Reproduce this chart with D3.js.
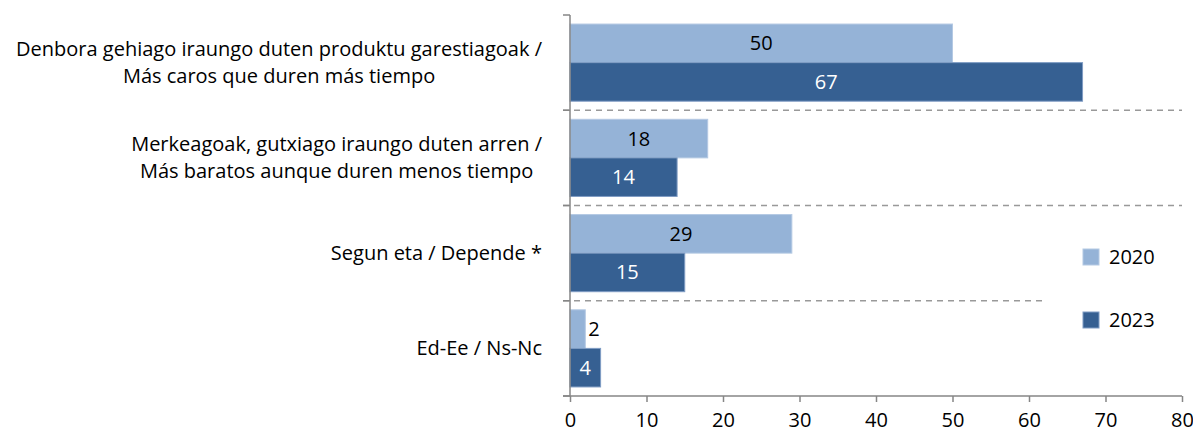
<!DOCTYPE html>
<html><head><meta charset="utf-8">
<script src="https://cdn.jsdelivr.net/npm/d3@7"></script>
<style>body{margin:0;background:#fff}svg{display:block}</style>
</head><body>
<script>
const categories = [
  ["Denbora gehiago iraungo duten produktu garestiagoak /", "Más caros que duren más tiempo"],
  ["Merkeagoak, gutxiago iraungo duten arren /", "Más baratos aunque duren menos tiempo"],
  ["Segun eta / Depende *"],
  ["Ed-Ee / Ns-Nc"]
];
const seriesNames = ["2020", "2023"];
const values2020 = [50, 18, 29, 2];
const values2023 = [67, 14, 15, 4];
const xTicks = [0, 10, 20, 30, 40, 50, 60, 70, 80];
const colors = ["#95B3D7", "#366092"];
const labelColors = ["#000", "#fff"];

const W = 1193, H = 434;
const font = "'Open Sans', sans-serif";
const fs = 20;
const svg = d3.select("body").append("svg").attr("width", W).attr("height", H);

const x = d3.scaleLinear().domain([0, 80]).range([570, 1182]);
const catIdx = categories.map((c, i) => i);
const y0 = d3.scaleBand().domain(catIdx).range([15, 396]).paddingInner(0.19).paddingOuter(0.095);
const y1 = d3.scaleBand().domain([0, 1]).range([0, y0.bandwidth()]);
const step = y0.step();

// dashed separators
const sepEnds = [1182, 1182, 1046];
[1, 2, 3].forEach((i, k) => {
  const yy = 15 + i * step;
  svg.append("line").attr("x1", 563).attr("x2", sepEnds[k]).attr("y1", yy).attr("y2", yy)
    .attr("stroke", "#999").attr("stroke-width", 1.5).attr("stroke-dasharray", "6,5");
});

const series = [values2020, values2023];
series.forEach((vals, s) => {
  const g = svg.append("g");
  vals.forEach((v, i) => {
    const yy = y0(i) + y1(s);
    g.append("rect").attr("x", x(0)).attr("y", yy).attr("width", x(v) - x(0)).attr("height", y1.bandwidth())
      .attr("fill", colors[s]).attr("stroke", s === 0 ? "#b4c9e3" : "#7f9cc4").attr("stroke-width", 1);
    const w = x(v) - x(0);
    const inside = w > 25;
    g.append("text")
      .attr("x", inside ? x(0) + w / 2 : x(v) + 3)
      .attr("y", yy + y1.bandwidth() / 2)
      .attr("dy", "0.35em")
      .attr("text-anchor", inside ? "middle" : "start")
      .attr("fill", inside ? labelColors[s] : "#000")
      .attr("font-family", font).attr("font-size", fs)
      .text(v);
  });
});

// y axis line
const axisColor = "#868686";
svg.append("line").attr("x1", 570).attr("x2", 570).attr("y1", 15).attr("y2", 396)
  .attr("stroke", axisColor).attr("stroke-width", 1.5);
[0, 1, 2, 3, 4].forEach(i => {
  const yy = 15 + i * step;
  svg.append("line").attr("x1", 563).attr("x2", 570).attr("y1", yy).attr("y2", yy)
    .attr("stroke", axisColor).attr("stroke-width", 1.5);
});

// x axis
const xAxis = d3.axisBottom(x).tickValues(xTicks).tickSize(6).tickPadding(11).tickSizeOuter(0);
const xg = svg.append("g").attr("transform", "translate(0,396)").call(xAxis);
xg.select(".domain").attr("stroke", axisColor).attr("stroke-width", 1.5).attr("d", "M563,0H1182");
xg.selectAll(".tick line").attr("stroke", axisColor).attr("stroke-width", 1.5);
xg.selectAll(".tick text").attr("font-family", font).attr("font-size", fs).attr("fill", "#000");

// category labels
categories.forEach((lines, i) => {
  const cy = y0(i) + y0.bandwidth() / 2;
  const g = svg.append("g");
  const texts = lines.map((l, j) => g.append("text")
    .attr("font-family", font).attr("font-size", fs).attr("fill", "#000")
    .attr("text-anchor", "middle").attr("dy", "0.35em")
    .attr("y", cy + (j - (lines.length - 1) / 2) * 27).text(l));
  const maxW = d3.max(texts, t => t.node().getComputedTextLength());
  texts.forEach(t => t.attr("x", 542 - maxW / 2));
});

// legend
seriesNames.forEach((n, i) => {
  const ly = 249 + i * 63;
  svg.append("rect").attr("x", 1083).attr("y", ly).attr("width", 16).attr("height", 16)
    .attr("fill", colors[i]).attr("stroke", i === 0 ? "#b4c9e3" : "#7f9cc4");
  svg.append("text").attr("x", 1109).attr("y", ly + 8).attr("dy", "0.35em")
    .attr("font-family", font).attr("font-size", fs).attr("fill", "#000").text(n);
});
</script>
</body></html>
